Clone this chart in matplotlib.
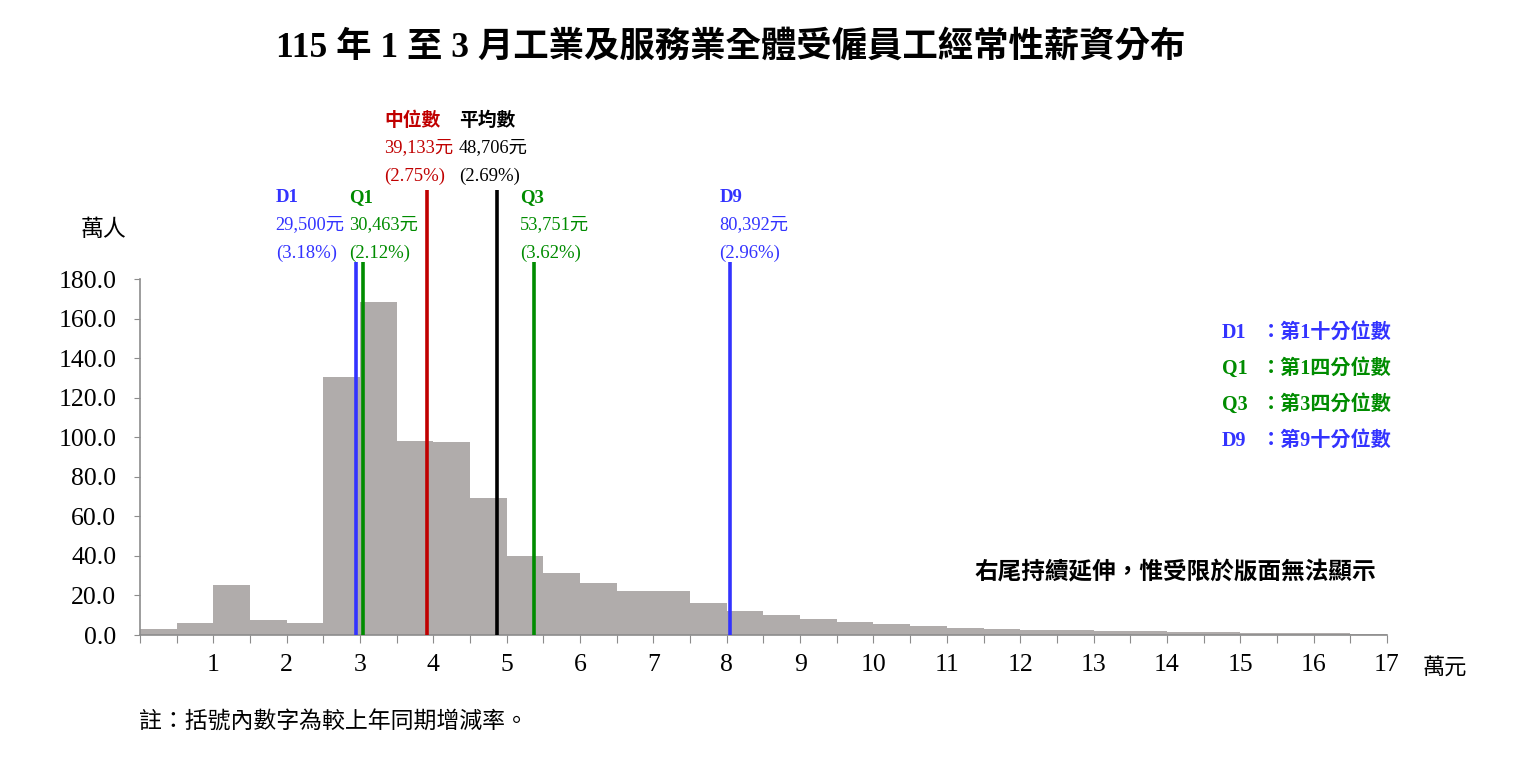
import numpy as np
import matplotlib
matplotlib.use("Agg")
import matplotlib.pyplot as plt

# 薪資級距（萬元），每 0.5 萬元一組
bin_left = np.arange(0, 17, 0.5)
# 人數（萬人）
counts = [3.2, 5.9, 25.4, 7.7, 5.9, 130.6, 168.5, 98.1, 97.8, 69.4,
          40.0, 31.3, 26.3, 22.2, 22.5, 16.2, 12.3, 10.1, 8.1, 6.7,
          5.6, 4.4, 3.7, 3.2, 2.7, 2.7, 2.1, 1.8, 1.5, 1.5,
          1.2, 1.0, 1.0, 0.7]

# 統計量（元）與增減率
stat_names = ["D1", "Q1", "中位數", "平均數", "Q3", "D9"]
stat_values = [29500, 30463, 39133, 48706, 53751, 80392]
stat_pct = ["(3.18%)", "(2.12%)", "(2.75%)", "(2.69%)", "(3.62%)", "(2.96%)"]

blue = "#3333FF"
green = "#008C00"
red = "#C00000"
stat_colors = [blue, green, red, "black", green, blue]

FONT = ["Liberation Serif", "Noto Sans CJK TC", "DejaVu Sans"]
plt.rcParams["font.family"] = FONT

fig = plt.figure(figsize=(15.16, 7.64), dpi=100)
ax = fig.add_axes([0.0923, 0.1688, 0.8226, 0.466])

ax.bar(bin_left, counts, width=0.5, align="edge", color="#B0ACAB", zorder=1)

ax.set_xlim(0, 17)
ax.set_ylim(0, 180)

# 垂直線與標示
line_top = [188.5, 188.5, 225, 225, 188.5, 188.5]
label_x = [1.85, 2.85, 3.33, 4.35, 5.18, 7.9]
label_y = [221, 221, 260, 260, 221, 221]
for i in range(len(stat_values)):
    xv = stat_values[i] / 10000
    c = stat_colors[i]
    ax.vlines(xv, 0, line_top[i], colors=c, linewidth=2.6, zorder=3, clip_on=False)
    ax.text(label_x[i], label_y[i], stat_names[i], color=c, fontsize=13.5,
            fontweight="bold", ha="left", va="center", clip_on=False)
    ax.text(label_x[i], label_y[i] - 13.5, f"{stat_values[i]:,}元", color=c,
            fontsize=13.2, ha="left", va="center", clip_on=False)
    ax.text(label_x[i], label_y[i] - 28, stat_pct[i], color=c,
            fontsize=13.5, ha="left", va="center", clip_on=False)

# 軸樣式
for s in ["top", "right"]:
    ax.spines[s].set_visible(False)
for s in ["left", "bottom"]:
    ax.spines[s].set_color("#8C8C8C")
    ax.spines[s].set_linewidth(1.2)

ax.set_yticks(np.arange(0, 181, 20))
ax.set_yticklabels([f"{v:.1f}" for v in np.arange(0, 181, 20)])
xt = np.arange(0, 17.01, 0.5)
ax.set_xticks(xt)
ax.set_xticklabels([str(int(v)) if (v == int(v) and v > 0) else "" for v in xt])
ax.tick_params(axis="y", length=4, color="#8C8C8C", pad=13, labelsize=18.5)
ax.tick_params(axis="x", length=6, color="#8C8C8C", pad=8, labelsize=18.5)

# 文字
fig.text(0.482, 0.938, "115 年 1 至 3 月工業及服務業全體受僱員工經常性薪資分布",
         fontsize=25.5, fontweight="bold", ha="center", va="center")
fig.text(0.068, 0.698, "萬人", fontsize=16.5, ha="center", va="center")
fig.text(0.953, 0.125, "萬元", fontsize=16, ha="center", va="center")
fig.text(0.643, 0.250, "右尾持續延伸，惟受限於版面無法顯示", fontsize=17,
         fontweight="bold", ha="left", va="center")
fig.text(0.092, 0.055, "註：括號內數字為較上年同期增減率。", fontsize=16.5,
         ha="left", va="center")

legend_rows = [("D1", "第1十分位數", blue), ("Q1", "第1四分位數", green),
               ("Q3", "第3四分位數", green), ("D9", "第9十分位數", blue)]
for k, (a, b, c) in enumerate(legend_rows):
    yy = 0.564 - k * 0.047
    fig.text(0.806, yy, a, color=c, fontsize=14.5, fontweight="bold",
             ha="left", va="center")
    fig.text(0.832, yy, "：" + b, color=c, fontsize=14.5, fontweight="bold",
             ha="left", va="center")

fig.savefig("out.png", dpi=100)
